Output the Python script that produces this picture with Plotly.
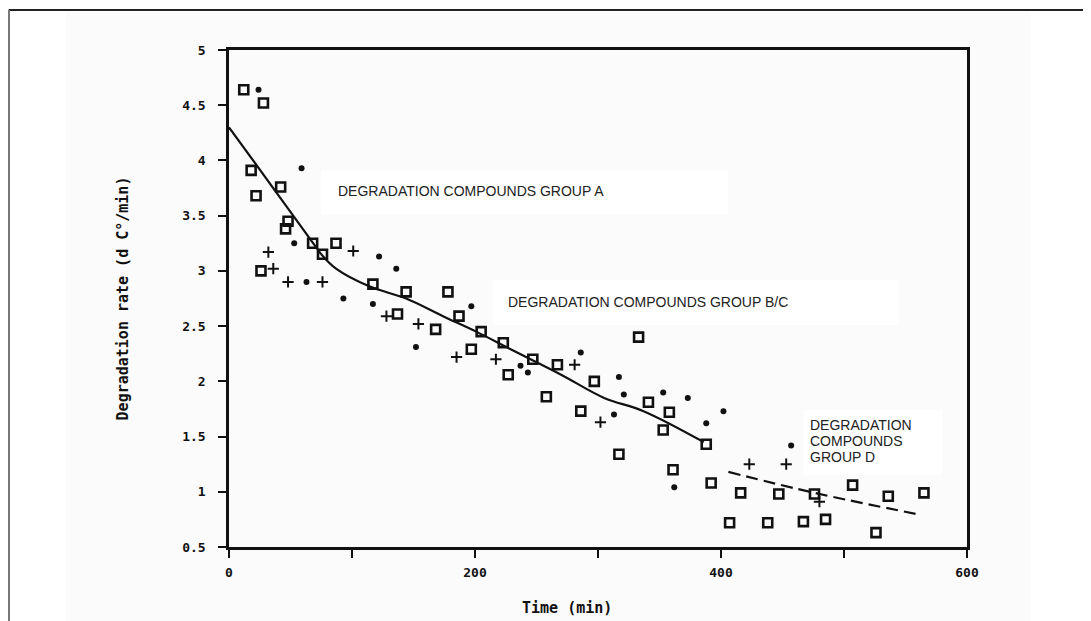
import plotly.graph_objects as go

# ---- data ----
sq_x = [12, 28, 18, 22, 42, 48, 46, 68, 87, 76, 26, 117, 137, 144, 168, 178, 187, 197,
        205, 223, 227, 247, 258, 267, 297, 333, 286, 341, 358, 353, 388, 317, 361, 392,
        407, 416, 447, 476, 507, 536, 565, 438, 467, 485, 526]
sq_y = [4.64, 4.52, 3.91, 3.68, 3.76, 3.45, 3.38, 3.25, 3.25, 3.15, 3.00, 2.88, 2.61, 2.81,
        2.47, 2.81, 2.59, 2.29, 2.45, 2.35, 2.06, 2.20, 1.86, 2.15, 2.00, 2.40, 1.73, 1.81,
        1.72, 1.56, 1.43, 1.34, 1.20, 1.08, 0.72, 0.99, 0.98, 0.98, 1.06, 0.96, 0.99, 0.72,
        0.73, 0.75, 0.63]

dot_x = [24, 59, 53, 122, 136, 63, 93, 117, 152, 197, 237, 243, 286, 317, 313, 321, 353,
         373, 388, 402, 457, 362]
dot_y = [4.64, 3.93, 3.25, 3.13, 3.02, 2.90, 2.75, 2.70, 2.31, 2.68, 2.14, 2.08, 2.26, 2.04,
         1.70, 1.88, 1.90, 1.85, 1.62, 1.73, 1.42, 1.04]

plus_x = [101, 32, 36, 48, 76, 128, 154, 185, 217, 281, 302, 423, 453, 480]
plus_y = [3.18, 3.17, 3.02, 2.90, 2.90, 2.59, 2.52, 2.22, 2.20, 2.15, 1.63, 1.25, 1.25, 0.91]

line_a_x = [0, 75]
line_a_y = [4.30, 3.15]
line_bc_x = [75, 87, 114, 144, 174, 201, 229, 270, 305, 337, 386]
line_bc_y = [3.15, 3.02, 2.86, 2.75, 2.59, 2.45, 2.29, 2.06, 1.85, 1.73, 1.45]
line_d_x = [406, 476, 563]
line_d_y = [1.18, 0.99, 0.79]

x_ticks = [0, 100, 200, 300, 400, 500, 600]
x_tick_labels = ["0", "", "200", "", "400", "", "600"]
y_ticks = [0.5, 1, 1.5, 2, 2.5, 3, 3.5, 4, 4.5, 5]
y_tick_labels = ["0.5", "1", "1.5", "2", "2.5", "3", "3.5", "4", "4.5", "5"]

label_a = "DEGRADATION COMPOUNDS GROUP A"
label_bc = "DEGRADATION COMPOUNDS GROUP B/C"
label_d = ["DEGRADATION", "COMPOUNDS", "GROUP D"]
x_title = "Time (min)"
y_title = "Degradation rate (d C°/min)"

fig = go.Figure()

fig.add_trace(go.Scatter(x=line_a_x, y=line_a_y, mode="lines",
                         line=dict(color="#111", width=2.2), showlegend=False))
fig.add_trace(go.Scatter(x=line_bc_x, y=line_bc_y, mode="lines", line_shape="spline",
                         line=dict(color="#111", width=2.2), showlegend=False))
fig.add_trace(go.Scatter(x=line_d_x, y=line_d_y, mode="lines", line_shape="spline",
                         line=dict(color="#111", width=2.2, dash="12px,6px"), showlegend=False))

fig.add_trace(go.Scatter(x=sq_x, y=sq_y, mode="markers", showlegend=False,
                         marker=dict(symbol="square-open", size=9, color="#111",
                                     line=dict(width=2.6, color="#111"))))
fig.add_trace(go.Scatter(x=dot_x, y=dot_y, mode="markers", showlegend=False,
                         marker=dict(symbol="circle", size=6, color="#111")))
fig.add_trace(go.Scatter(x=plus_x, y=plus_y, mode="markers", showlegend=False,
                         marker=dict(symbol="cross-thin-open", size=8, color="#111",
                                     line=dict(width=2, color="#111"))))

shapes = [
    # scanned page tint
    dict(type="rect", xref="paper", yref="paper", x0=-0.221, x1=1.087, y0=-0.17, y1=1.0765,
         fillcolor="#fbfbfb", line=dict(width=0), layer="below"),
    # outer frame lines
    dict(type="line", xref="paper", yref="paper", x0=-0.2985, x1=1.18, y0=1.0805, y1=1.0805,
         line=dict(color="#222", width=2)),
    dict(type="line", xref="paper", yref="paper", x0=-0.2981, x1=-0.2981, y0=1.0805, y1=-0.17,
         line=dict(color="#777", width=2)),
    # white label boxes
    dict(type="rect", xref="x", yref="y", x0=75, x1=406, y0=3.51, y1=3.91,
         fillcolor="white", line=dict(width=0), layer="below"),
    dict(type="rect", xref="x", yref="y", x0=215, x1=545, y0=2.51, y1=2.92,
         fillcolor="white", line=dict(width=0), layer="below"),
    dict(type="rect", xref="x", yref="y", x0=467, x1=580, y0=1.15, y1=1.74,
         fillcolor="white", line=dict(width=0), layer="below"),
]

ann_font = dict(family="Liberation Sans, Arial, sans-serif", size=14, color="#222")
tick_font = dict(family="DejaVu Sans Mono, monospace", size=13, color="#111", weight="bold")
title_font = dict(family="DejaVu Sans Mono, monospace", size=15, color="#111", weight="bold")

annotations = [
    dict(x=87, y=3.72, text=label_a, showarrow=False, xanchor="left", yanchor="middle",
         font=ann_font),
    dict(x=225, y=2.72, text=label_bc, showarrow=False, xanchor="left", yanchor="middle",
         font=ann_font),
    dict(x=275, xref="x", y=-0.123, yref="paper", text=x_title, showarrow=False,
         xanchor="center", yanchor="middle", font=title_font),
]
for txt, yy in zip(label_d, [1.605, 1.46, 1.315]):
    annotations.append(dict(x=471, y=yy, text=txt, showarrow=False, xanchor="left",
                            yanchor="middle", font=ann_font))

fig.update_layout(
    width=1091, height=621,
    margin=dict(l=221, r=132, t=42, b=82),
    paper_bgcolor="white", plot_bgcolor="rgba(0,0,0,0)",
    shapes=shapes, annotations=annotations,
    xaxis=dict(range=[0, 600], tickvals=x_ticks, ticktext=x_tick_labels,
               showgrid=False, zeroline=False, showline=True, linecolor="#111", linewidth=2.5,
               mirror=True, ticks="outside", ticklen=8, tickwidth=2, tickcolor="#111",
               tickfont=tick_font, ticklabelstandoff=4),
    yaxis=dict(range=[0.5, 5], tickvals=y_ticks, ticktext=y_tick_labels,
               showgrid=False, zeroline=False, showline=True, linecolor="#111", linewidth=2.5,
               mirror=True, ticks="outside", ticklen=8, tickwidth=2, tickcolor="#111",
               tickfont=tick_font, ticklabelstandoff=10,
               title=dict(text=y_title, font=title_font, standoff=50)),
)

fig.write_html("out.html")
